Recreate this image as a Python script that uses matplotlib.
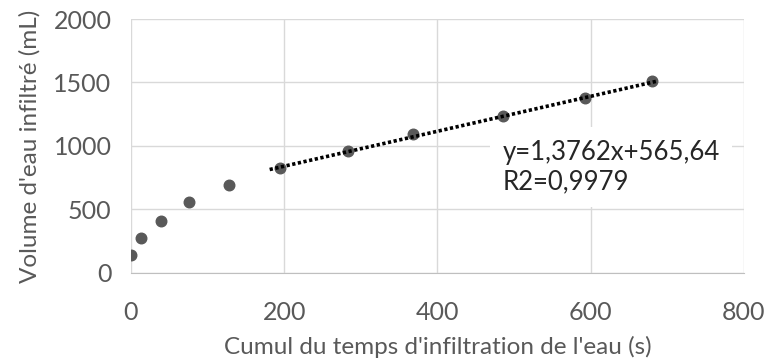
import matplotlib.pyplot as plt
import numpy as np

# cumulative infiltration time (s) and infiltrated volume (mL)
temps = [0, 13, 39, 76, 128, 194, 283, 368, 486, 592, 680]
volume = [142, 275, 409, 559, 692, 826, 960, 1094, 1236, 1377, 1511]

# linear trend shown on the chart (fit of the points from 194 s on)
pente = 1.3762
ordonnee = 565.64
trend_x = [181, 686]

x_ticks = [0, 200, 400, 600, 800]
y_ticks = [0, 500, 1000, 1500, 2000]

plt.rcParams['font.family'] = ['Lato', 'DejaVu Sans']

fig = plt.figure(figsize=(7.65, 3.62), dpi=100)
ax = fig.add_axes([0.1712, 0.2459, 0.8013, 0.7016])

ax.plot(temps, volume, 'o', color='#595959', markersize=7.6, zorder=3)

tx = np.array(trend_x)
ax.plot(tx, pente*tx + ordonnee, color='black', linewidth=2.6,
        linestyle=(0, (0.9, 0.7)), dash_capstyle='butt', zorder=4)

ax.set_xlim(0, 800)
ax.set_ylim(0, 2000)
ax.set_xticks(x_ticks)
ax.set_yticks(y_ticks)
ax.grid(True, color='#d9d9d9', linewidth=1)
ax.set_axisbelow(True)
for s in ['top', 'right', 'left']:
    ax.spines[s].set_visible(False)
ax.spines['bottom'].set_color('#bfbfbf')
ax.tick_params(length=0, labelsize=18, colors='#595959')
ax.tick_params(axis='x', pad=20)
ax.tick_params(axis='y', pad=14)

ax.set_xlabel("Cumul du temps d'infiltration de l'eau (s)", fontsize=17.5, color='#595959', labelpad=9)
ax.set_ylabel("Volume d'eau infiltré (mL)", fontsize=17.5, color='#595959', labelpad=9)

ax.text(485, 835, "y=1,3762x+565,64\nR2=0,9979", fontsize=18.5, color='#262626',
        va='center', ha='left', linespacing=1.2, zorder=5,
        bbox=dict(facecolor='white', edgecolor='none', pad=9))

plt.savefig("out.png", dpi=100)
